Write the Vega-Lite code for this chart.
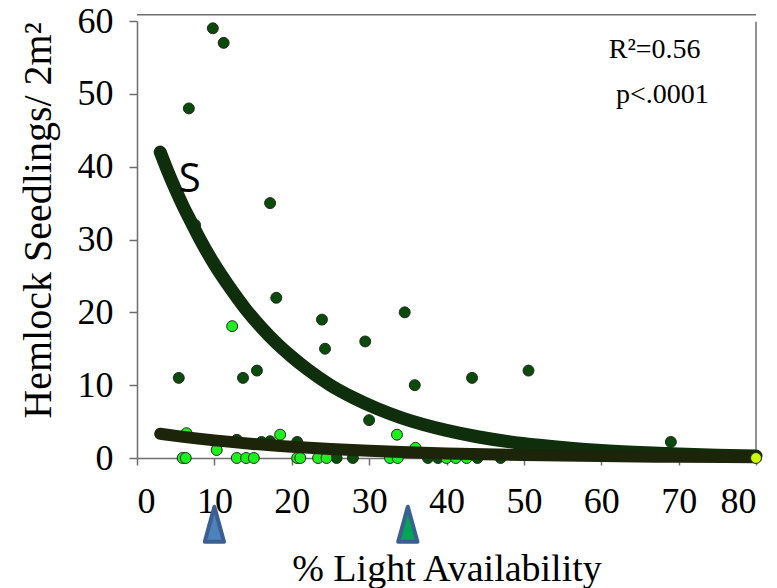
{
 "$schema": "https://vega.github.io/schema/vega-lite/v6.json",
 "width": 619, "height": 437,
 "autosize": {"type": "none"},
 "padding": {"left": 137, "top": 21, "right": 21, "bottom": 130},
 "background": "white",
 "config": {
  "view": {"stroke": null},
  "axis": {"grid": false, "labelFont": "Liberation Serif", "titleFont": "Liberation Serif", "labelColor": "black", "titleColor": "black", "titleFontWeight": "normal", "domainColor": "#6e6e6e", "tickColor": "#6e6e6e", "domainWidth": 1.5, "tickWidth": 1.5, "labelFontSize": 36, "titleFontSize": 38}
 },
 "resolve": {"scale": {"fill": "independent"}},
 "datasets": {
  "pts": [
   {"x": 9.8, "y": 59, "g": "dark"}, {"x": 11.2, "y": 57, "g": "dark"}, {"x": 6.7, "y": 48, "g": "dark"}, {"x": 7.5, "y": 32, "g": "dark"},
   {"x": 17.2, "y": 35, "g": "dark"}, {"x": 18, "y": 22, "g": "dark"}, {"x": 23.9, "y": 19, "g": "dark"}, {"x": 24.3, "y": 15, "g": "dark"},
   {"x": 29.5, "y": 16, "g": "dark"}, {"x": 34.6, "y": 20, "g": "dark"}, {"x": 35.9, "y": 10, "g": "dark"}, {"x": 43.3, "y": 11, "g": "dark"},
   {"x": 50.6, "y": 12, "g": "dark"}, {"x": 30, "y": 5.2, "g": "dark"}, {"x": 69, "y": 2.2, "g": "dark"}, {"x": 5.4, "y": 11, "g": "dark"},
   {"x": 13.7, "y": 11, "g": "dark"}, {"x": 15.5, "y": 12, "g": "dark"}, {"x": 12.9, "y": 2.5, "g": "dark"}, {"x": 16.1, "y": 2.2, "g": "dark"},
   {"x": 17.2, "y": 2.3, "g": "dark"}, {"x": 20.7, "y": 2.2, "g": "dark"}, {"x": 25.8, "y": 0, "g": "dark"}, {"x": 27.9, "y": 0, "g": "dark"},
   {"x": 37.6, "y": 0, "g": "dark"}, {"x": 38.9, "y": 0, "g": "dark"}, {"x": 44, "y": 0, "g": "dark"}, {"x": 47, "y": 0, "g": "dark"},
   {"x": 5.9, "y": 0, "g": "light"}, {"x": 6.3, "y": 0, "g": "light"}, {"x": 6.4, "y": 3.4, "g": "light"}, {"x": 10.3, "y": 1.1, "g": "light"},
   {"x": 12.3, "y": 18.1, "g": "light"}, {"x": 12.9, "y": 0, "g": "light"}, {"x": 14.1, "y": 0, "g": "light"}, {"x": 15.1, "y": 0, "g": "light"},
   {"x": 18.5, "y": 3.2, "g": "light"}, {"x": 20.7, "y": 0, "g": "light"}, {"x": 21.1, "y": 0, "g": "light"}, {"x": 23.4, "y": 0, "g": "light"},
   {"x": 24.5, "y": 0, "g": "light"}, {"x": 33.6, "y": 3.2, "g": "light"}, {"x": 36, "y": 1.4, "g": "light"}, {"x": 32.7, "y": 0, "g": "light"},
   {"x": 33.7, "y": 0, "g": "light"}, {"x": 40, "y": 0, "g": "light"}, {"x": 41.2, "y": 0, "g": "light"}, {"x": 42.6, "y": 0, "g": "light"},
   {"x": 80, "y": 0, "g": "yellow"}
  ],
  "curves": [
   {"x": 3, "y": 42.0, "c": "upper"}, {"x": 4, "y": 39.3, "c": "upper"}, {"x": 5, "y": 36.8, "c": "upper"}, {"x": 6, "y": 34.5, "c": "upper"},
   {"x": 7, "y": 32.4, "c": "upper"}, {"x": 8, "y": 30.3, "c": "upper"}, {"x": 10, "y": 26.6, "c": "upper"}, {"x": 12, "y": 23.4, "c": "upper"},
   {"x": 14, "y": 20.5, "c": "upper"}, {"x": 16, "y": 18.0, "c": "upper"}, {"x": 18, "y": 15.8, "c": "upper"}, {"x": 20, "y": 13.9, "c": "upper"},
   {"x": 22, "y": 12.2, "c": "upper"}, {"x": 25, "y": 10.0, "c": "upper"}, {"x": 28, "y": 8.26, "c": "upper"}, {"x": 31, "y": 6.8, "c": "upper"},
   {"x": 34, "y": 5.59, "c": "upper"}, {"x": 37, "y": 4.6, "c": "upper"}, {"x": 40, "y": 3.79, "c": "upper"}, {"x": 44, "y": 2.92, "c": "upper"},
   {"x": 48, "y": 2.25, "c": "upper"}, {"x": 52, "y": 1.74, "c": "upper"}, {"x": 56, "y": 1.34, "c": "upper"}, {"x": 60, "y": 1.03, "c": "upper"},
   {"x": 65, "y": 0.75, "c": "upper"}, {"x": 70, "y": 0.54, "c": "upper"}, {"x": 75, "y": 0.39, "c": "upper"}, {"x": 80, "y": 0.28, "c": "upper"},
   {"x": 3, "y": 3.32, "c": "lower"}, {"x": 6, "y": 2.9, "c": "lower"}, {"x": 10, "y": 2.42, "c": "lower"}, {"x": 15, "y": 1.93, "c": "lower"},
   {"x": 20, "y": 1.55, "c": "lower"}, {"x": 25, "y": 1.23, "c": "lower"}, {"x": 30, "y": 0.99, "c": "lower"}, {"x": 35, "y": 0.79, "c": "lower"},
   {"x": 40, "y": 0.63, "c": "lower"}, {"x": 50, "y": 0.4, "c": "lower"}, {"x": 60, "y": 0.26, "c": "lower"}, {"x": 70, "y": 0.16, "c": "lower"},
   {"x": 80, "y": 0.1, "c": "lower"}
  ],
  "frame": [
   {"x": 0, "x2": 80, "y": 60.85, "y2": 60.85},
   {"x": 80, "x2": 80, "y": 0, "y2": 59.9}
  ],
  "arrows": [
   {"x": 10, "y": -9.1, "k": "blue"},
   {"x": 35, "y": -9.1, "k": "green"}
  ],
  "notes": [
   {"x": 6.8, "y": 38.2, "t": "S", "k": "s"},
   {"x": 66.9, "y": 54.9, "t": "R²=0.56", "k": "stat"},
   {"x": 67.9, "y": 48.8, "t": "p<.0001", "k": "stat"}
  ]
 },
 "layer": [
  {
   "data": {"name": "frame"},
   "mark": {"type": "rule", "color": "#6e6e6e", "strokeWidth": 1.5, "clip": false},
   "encoding": {
    "x": {"field": "x", "type": "quantitative", "scale": {"domain": [0, 80], "nice": false}, "axis": {"values": [0, 10, 20, 30, 40, 50, 60, 70, 80], "tickSize": 7, "labelPadding": 19, "title": "% Light Availability", "titlePadding": 31}},
    "x2": {"field": "x2"},
    "y": {"field": "y", "type": "quantitative", "scale": {"domain": [0, 60], "nice": false}, "axis": {"values": [0, 10, 20, 30, 40, 50, 60], "tickSize": 8, "labelPadding": 16, "title": "Hemlock Seedlings/ 2m²", "titleFontSize": 40, "titlePadding": 19, "titleY": 199}},
    "y2": {"field": "y2"}
   }
  },
  {
   "data": {"name": "pts"},
   "transform": [{"filter": "datum.g !== 'yellow'"}],
   "mark": {"type": "point", "filled": true, "shape": "circle", "size": 120, "stroke": "#1f2a1a", "strokeWidth": 1, "opacity": 1},
   "encoding": {
    "x": {"field": "x", "type": "quantitative"},
    "y": {"field": "y", "type": "quantitative"},
    "fill": {"field": "g", "type": "nominal", "scale": {"domain": ["dark", "light", "yellow"], "range": ["#0a4a0a", "#1ef01e", "#ccff00"]}, "legend": null}
   }
  },
  {
   "data": {"name": "curves"},
   "transform": [{"filter": "datum.c === 'upper'"}],
   "mark": {"type": "line", "color": "#0f2e0c", "strokeWidth": 13, "strokeCap": "round", "strokeJoin": "round", "interpolate": "monotone"},
   "encoding": {
    "x": {"field": "x", "type": "quantitative"},
    "y": {"field": "y", "type": "quantitative"}
   }
  },
  {
   "data": {"name": "curves"},
   "transform": [{"filter": "datum.c === 'lower'"}],
   "mark": {"type": "line", "color": "#1c2409", "strokeWidth": 12, "strokeCap": "round", "strokeJoin": "round", "interpolate": "monotone"},
   "encoding": {
    "x": {"field": "x", "type": "quantitative"},
    "y": {"field": "y", "type": "quantitative"}
   }
  },
  {
   "data": {"name": "pts"},
   "transform": [{"filter": "datum.g === 'yellow'"}],
   "mark": {"type": "point", "filled": true, "shape": "circle", "size": 120, "stroke": "#1f2a1a", "strokeWidth": 1, "opacity": 1, "clip": false},
   "encoding": {
    "x": {"field": "x", "type": "quantitative"},
    "y": {"field": "y", "type": "quantitative"},
    "fill": {"field": "g", "type": "nominal", "scale": {"domain": ["dark", "light", "yellow"], "range": ["#0a4a0a", "#1ef01e", "#ccff00"]}, "legend": null}
   }
  },
  {
   "data": {"name": "arrows"},
   "mark": {"type": "point", "filled": true, "shape": "M0,-1L0.55,1L-0.55,1Z", "size": 1225, "stroke": "#3b5f90", "strokeWidth": 4, "strokeJoin": "round", "opacity": 1, "clip": false},
   "encoding": {
    "x": {"field": "x", "type": "quantitative"},
    "y": {"field": "y", "type": "quantitative"},
    "fill": {"field": "k", "type": "nominal", "scale": {"domain": ["blue", "green"], "range": ["#4f81bd", "#00a651"]}, "legend": null}
   }
  },
  {
   "data": {"name": "notes"},
   "transform": [{"filter": "datum.k === 's'"}],
   "mark": {"type": "text", "font": "Open Sans", "fontSize": 40, "color": "black", "align": "center", "baseline": "middle"},
   "encoding": {
    "x": {"field": "x", "type": "quantitative"},
    "y": {"field": "y", "type": "quantitative"},
    "text": {"field": "t"}
   }
  },
  {
   "data": {"name": "notes"},
   "transform": [{"filter": "datum.k === 'stat'"}],
   "mark": {"type": "text", "font": "Liberation Serif", "fontSize": 28, "color": "black", "align": "center", "baseline": "alphabetic"},
   "encoding": {
    "x": {"field": "x", "type": "quantitative"},
    "y": {"field": "y", "type": "quantitative"},
    "text": {"field": "t"}
   }
  }
 ]
}
